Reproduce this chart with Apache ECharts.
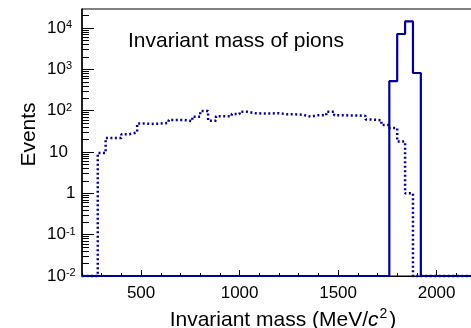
<!DOCTYPE html>
<html>
<head>
<meta charset="utf-8">
<script src="https://cdn.jsdelivr.net/npm/echarts@6/dist/echarts.min.js"></script>
<style>
  html, body { margin: 0; padding: 0; background: #fff; }
  #chart { width: 471px; height: 328px; }
</style>
</head>
<body>
<div id="chart"></div>
<script>
// Histogram binning (MeV/c^2)
const xMin = 200;
const xMax = 2200;
const binWidth = 40;

// Log-scale vertical range
const yMin = 0.01;
const yMax = 2.9e4;

// Bin contents, one per 40 MeV bin starting at 200 MeV
const countsDotted = [
  0, 0, 9.5, 22, 22, 27, 30, 49, 48, 49,
  51, 60, 60, 56, 72, 98, 57, 74, 74, 83,
  94, 87, 86, 86, 87, 82, 82, 80, 72, 78,
  78, 95, 78, 77, 77, 75, 61, 59, 45, 38,
  18, 1, 0, 0, 0, 0, 0, 0, 0, 0
];
const countsSolid = [
  0, 0, 0, 0, 0, 0, 0, 0, 0, 0,
  0, 0, 0, 0, 0, 0, 0, 0, 0, 0,
  0, 0, 0, 0, 0, 0, 0, 0, 0, 0,
  0, 0, 0, 0, 0, 0, 0, 0, 0, 520,
  7200, 14500, 820, 0, 0, 0, 0, 0, 0, 0
];

// Axis ticks
const xMajorTicks = [500, 1000, 1500, 2000];
const xMinorInterval = 100;
const yMajorTicks = [0.01, 0.1, 1, 10, 100, 1000, 10000];
const yMinorTicks = [];
yMajorTicks.forEach(function (d) {
  for (let m = 2; m <= 9; m++) {
    const v = +(m * d).toPrecision(3);
    if (v < yMax) yMinorTicks.push(v);
  }
});

const binEdges = [];
for (let i = 0; i <= countsDotted.length; i++) binEdges.push(xMin + i * binWidth);

// Step outline: empty bins sit on the lower edge of the log axis
function stepData(counts) {
  const pts = counts.map(function (c, i) { return [binEdges[i], Math.max(c, yMin)]; });
  pts.push([binEdges[counts.length], Math.max(counts[counts.length - 1], yMin)]);
  return pts;
}

const FONT = 'Liberation Sans';
const LINE_COLOR = '#000099';

const chart = echarts.init(document.getElementById('chart'), null, { renderer: 'canvas' });

chart.setOption({
  animation: false,
  backgroundColor: '#fff',
  grid: {
    left: 82, right: -5, top: 9, bottom: 52,
    outerBoundsMode: 'none', containLabel: false,
    show: true, borderColor: '#000', borderWidth: 1, backgroundColor: 'transparent'
  },
  xAxis: [
    {
      type: 'value', min: xMin, max: xMax, position: 'bottom',
      axisLine: { onZero: false, lineStyle: { color: '#000', width: 1 } },
      axisTick: { inside: true, length: 6, customValues: xMajorTicks, lineStyle: { color: '#000', width: 1 } },
      axisLabel: {
        customValues: xMajorTicks, margin: 9, color: '#000',
        fontFamily: FONT, fontSize: 17,
        formatter: function (v) { return String(v); }
      },
      splitLine: { show: false },
      name: 'Invariant mass (MeV/{it|c}{sup|2})',
      nameLocation: 'middle', nameGap: 26,
      nameTextStyle: {
        color: '#000', fontFamily: FONT, fontSize: 21, lineHeight: 27,
        padding: [0, 0, 0, 8],
        rich: {
          it: { fontFamily: FONT, fontSize: 21, lineHeight: 27, fontStyle: 'italic', color: '#000' },
          sup: { fontFamily: FONT, fontSize: 14, lineHeight: 14, verticalAlign: 'top', padding: [0, 2, 0, 1], color: '#000' }
        }
      }
    },
    {
      type: 'value', min: xMin, max: xMax, interval: xMinorInterval, position: 'bottom',
      axisLine: { show: false, onZero: false },
      axisTick: { inside: true, length: 3, lineStyle: { color: '#000', width: 1 } },
      axisLabel: { show: false },
      splitLine: { show: false }
    }
  ],
  yAxis: [
    {
      type: 'log', logBase: 10, min: yMin, max: yMax, position: 'left',
      axisLine: { onZero: false, lineStyle: { color: '#000', width: 1.5 } },
      axisTick: { inside: true, length: 12, customValues: yMajorTicks, lineStyle: { color: '#000', width: 1 } },
      axisLabel: {
        customValues: yMajorTicks, align: 'left', margin: 35, color: '#000',
        fontFamily: FONT, fontSize: 17,
        formatter: function (v) {
          const e = Math.round(Math.log10(v));
          if (e === 0) return '{one|1}';
          if (e === 1) return '{ten|10}';
          return '{b|10}{sup|' + e + '}';
        },
        rich: {
          b: { fontFamily: FONT, fontSize: 17, color: '#000' },
          one: { fontFamily: FONT, fontSize: 17, color: '#000', padding: [0, 0, 0, 19] },
          ten: { fontFamily: FONT, fontSize: 17, color: '#000', padding: [0, 0, 0, 2] },
          sup: { fontFamily: FONT, fontSize: 11, color: '#000', verticalAlign: 'top' }
        }
      },
      splitLine: { show: false }
    },
    {
      type: 'log', logBase: 10, min: yMin, max: yMax, position: 'left',
      axisLine: { show: false, onZero: false },
      axisTick: { inside: true, length: 7, customValues: yMinorTicks, lineStyle: { color: '#000', width: 1 } },
      axisLabel: { show: false },
      splitLine: { show: false }
    }
  ],
  graphic: [
    {
      type: 'text', left: 128, top: 31, z: 10,
      style: { text: 'Invariant mass of pions', fontFamily: FONT, fontSize: 21, fill: '#000' }
    },
    {
      type: 'text', x: 29, y: 134.5, rotation: Math.PI / 2, z: 10,
      style: {
        text: 'Events', fontFamily: FONT, fontSize: 21, fill: '#000',
        align: 'center', verticalAlign: 'middle'
      }
    }
  ],
  series: [
    {
      type: 'line', xAxisIndex: 0, yAxisIndex: 0, step: 'end', symbol: 'none',
      clip: false, z: 3,
      lineStyle: { color: LINE_COLOR, width: 2.5, type: [2, 2.5] },
      data: stepData(countsDotted)
    },
    {
      type: 'line', xAxisIndex: 0, yAxisIndex: 0, step: 'end', symbol: 'none',
      clip: false, z: 4,
      lineStyle: { color: LINE_COLOR, width: 2.2 },
      data: stepData(countsSolid)
    }
  ]
});
</script>
</body>
</html>
